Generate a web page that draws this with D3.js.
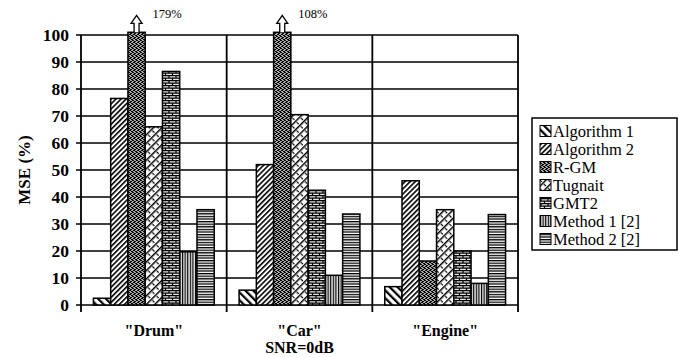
<!DOCTYPE html>
<html>
<head>
<meta charset="utf-8">
<script src="https://cdn.jsdelivr.net/npm/d3@7"></script>
<style>
  body { margin: 0; background: #fff; }
  svg { display: block; font-family: "Liberation Serif", "Times New Roman", serif; }
</style>
</head>
<body>
<div id="chart"></div>
<script>
// data
const categories = ['"Drum"', '"Car"', '"Engine"']
const series = ['Algorithm 1', 'Algorithm 2', 'R-GM', 'Tugnait', 'GMT2', 'Method 1 [2]', 'Method 2 [2]']
const values = [
  [2.5, 5.5, 6.8],    // Algorithm 1
  [76.5, 52, 46],     // Algorithm 2
  [179, 108, 16.3],   // R-GM
  [66, 70.5, 35.3],   // Tugnait
  [86.5, 42.5, 20],   // GMT2
  [19.7, 11, 8],      // Method 1 [2]
  [35.3, 33.7, 33.5]  // Method 2 [2]
]
const yTicks = [0, 10, 20, 30, 40, 50, 60, 70, 80, 90, 100]

const width = 679
const height = 358
const margin = {top: 35, right: 161, bottom: 53, left: 81}
const cap = 101 // bars over the axis get cut here and marked with an arrow

const x = d3.scaleBand()
  .domain(categories)
  .range([margin.left, width - margin.right])
  .padding(0)
const xs = d3.scaleBand()
  .domain(series)
  .range([0, x.bandwidth()])
  .paddingInner(0)
  .paddingOuter(0.72)
const y = d3.scaleLinear()
  .domain([0, 100])
  .range([height - margin.bottom, margin.top])

const svg = d3.create('svg')
  .attr('width', width)
  .attr('height', height)
  .attr('viewBox', [0, 0, width, height])

// hatch patterns, one per series
const defs = svg.append('defs')
function linePattern(id, size, sw, angle, bg) {
  const p = defs.append('pattern')
    .attr('id', id)
    .attr('patternUnits', 'userSpaceOnUse')
    .attr('width', size).attr('height', size)
    .attr('patternTransform', `rotate(${angle})`)
  p.append('rect').attr('width', size).attr('height', size).attr('fill', bg || '#fff')
  p.append('rect').attr('width', sw).attr('height', size).attr('fill', '#000')
}
linePattern('p0', 5.5, 2.2, -45)
linePattern('p1', 3.6, 1.6, 45)
linePattern('p5', 2.6, 1.1, 0, '#ddd')
linePattern('p6', 2.6, 1.3, 90)

// R-GM: fine dark speckled texture
const p2 = defs.append('pattern').attr('id', 'p2')
  .attr('patternUnits', 'userSpaceOnUse').attr('width', 4).attr('height', 4)
p2.append('rect').attr('width', 4).attr('height', 4).attr('fill', '#aaa')
p2.append('path').attr('d', 'M0,0h2v1h-2z M2,1h2v1h-2z M1,2h2v1h-2z M3,3h1v1h-1z M0,3h1v1h-1z')
  .attr('fill', '#000')

// Tugnait: diagonal weave
const p3 = defs.append('pattern').attr('id', 'p3')
  .attr('patternUnits', 'userSpaceOnUse').attr('width', 6).attr('height', 6)
  .attr('patternTransform', 'rotate(45)')
p3.append('rect').attr('width', 6).attr('height', 6).attr('fill', '#fff')
p3.append('rect').attr('width', 1.5).attr('height', 6).attr('fill', '#000')
p3.append('rect').attr('x', 2.2).attr('y', 2).attr('width', 2.8).attr('height', 1.2).attr('fill', '#000')

// GMT2: bricks
const p4 = defs.append('pattern').attr('id', 'p4')
  .attr('patternUnits', 'userSpaceOnUse').attr('width', 7).attr('height', 5)
p4.append('rect').attr('width', 7).attr('height', 5).attr('fill', '#e8e8e8')
p4.append('path').attr('d', 'M0,0.6 H7 M0,3.1 H7 M1,0.6 V3.1 M4.5,3.1 V5.6')
  .attr('stroke', '#000').attr('stroke-width', 1.2).attr('fill', 'none')

const fills = series.map((s, i) => `url(#p${i})`)

// grid
svg.append('g')
  .selectAll('line')
  .data(yTicks)
  .join('line')
    .attr('x1', margin.left - 5)
    .attr('x2', width - margin.right)
    .attr('y1', d => y(d))
    .attr('y2', d => y(d))
    .attr('stroke', '#000')
    .attr('stroke-width', 1.6)

const seps = categories.map(c => x(c)).concat([x.range()[1]])
svg.append('g')
  .selectAll('line')
  .data(seps)
  .join('line')
    .attr('x1', d => d).attr('x2', d => d)
    .attr('y1', y(100))
    .attr('y2', y(0) + 7)
    .attr('stroke', '#000')
    .attr('stroke-width', 1.8)

// y tick labels
svg.append('g')
  .attr('font-weight', 'bold')
  .attr('font-size', 17.5)
  .attr('text-anchor', 'end')
  .selectAll('text')
  .data(yTicks)
  .join('text')
    .attr('x', margin.left - 12)
    .attr('y', d => y(d))
    .attr('dy', '0.35em')
    .text(d => d)

// bars
const flat = []
values.forEach((row, i) => row.forEach((v, j) => flat.push({s: series[i], si: i, c: categories[j], value: v})))

svg.append('g')
  .selectAll('rect')
  .data(flat)
  .join('rect')
    .attr('x', d => x(d.c) + xs(d.s))
    .attr('y', d => y(Math.min(d.value, cap)))
    .attr('width', xs.bandwidth())
    .attr('height', d => y(0) - y(Math.min(d.value, cap)))
    .attr('fill', d => fills[d.si])
    .attr('stroke', '#000')
    .attr('stroke-width', 1.5)

// arrows + labels for the bars that run off the top
const over = flat.filter(d => d.value > 100)
const arrow = 'M-2.5,0 V-9 H-5.5 L0,-17 L5.5,-9 H2.5 V0'
svg.append('g')
  .selectAll('path')
  .data(over)
  .join('path')
    .attr('transform', d => `translate(${x(d.c) + xs(d.s) + xs.bandwidth() / 2},${y(cap)})`)
    .attr('d', arrow)
    .attr('fill', '#fff')
    .attr('stroke', '#000')
    .attr('stroke-width', 1.3)
svg.append('g')
  .attr('font-size', 12.5)
  .selectAll('text')
  .data(over)
  .join('text')
    .attr('x', d => x(d.c) + xs(d.s) + xs.bandwidth() / 2 + 16)
    .attr('y', y(cap) - 14)
    .text(d => `${d.value}%`)

// category labels
svg.append('g')
  .attr('font-weight', 'bold')
  .attr('font-size', 16)
  .attr('text-anchor', 'middle')
  .selectAll('text')
  .data(categories)
  .join('text')
    .attr('x', d => x(d) + x.bandwidth() / 2)
    .attr('y', y(0) + 31)
    .text(d => d)

svg.append('text')
  .attr('x', (x.range()[0] + x.range()[1]) / 2)
  .attr('y', height - 5)
  .attr('text-anchor', 'middle')
  .attr('font-weight', 'bold')
  .attr('font-size', 16)
  .text('SNR=0dB')

svg.append('text')
  .attr('transform', `translate(30,${(y(0) + y(100)) / 2}) rotate(-90)`)
  .attr('text-anchor', 'middle')
  .attr('font-weight', 'bold')
  .attr('font-size', 17)
  .text('MSE (%)')

// legend
const legend = svg.append('g').attr('transform', 'translate(532,118)')
legend.append('rect')
  .attr('width', 145).attr('height', 132)
  .attr('fill', '#fff').attr('stroke', '#000').attr('stroke-width', 1.5)
const item = legend.selectAll('g')
  .data(series)
  .join('g')
    .attr('transform', (d, i) => `translate(8,${13 + i * 18})`)
item.append('rect')
  .attr('x', 0).attr('y', -5.5)
  .attr('width', 11).attr('height', 11)
  .attr('fill', (d, i) => fills[i])
  .attr('stroke', '#000').attr('stroke-width', 1)
item.append('text')
  .attr('x', 13)
  .attr('dy', '0.35em')
  .attr('font-size', 16.5)
  .text(d => d)

document.getElementById('chart').appendChild(svg.node())
</script>
</body>
</html>
